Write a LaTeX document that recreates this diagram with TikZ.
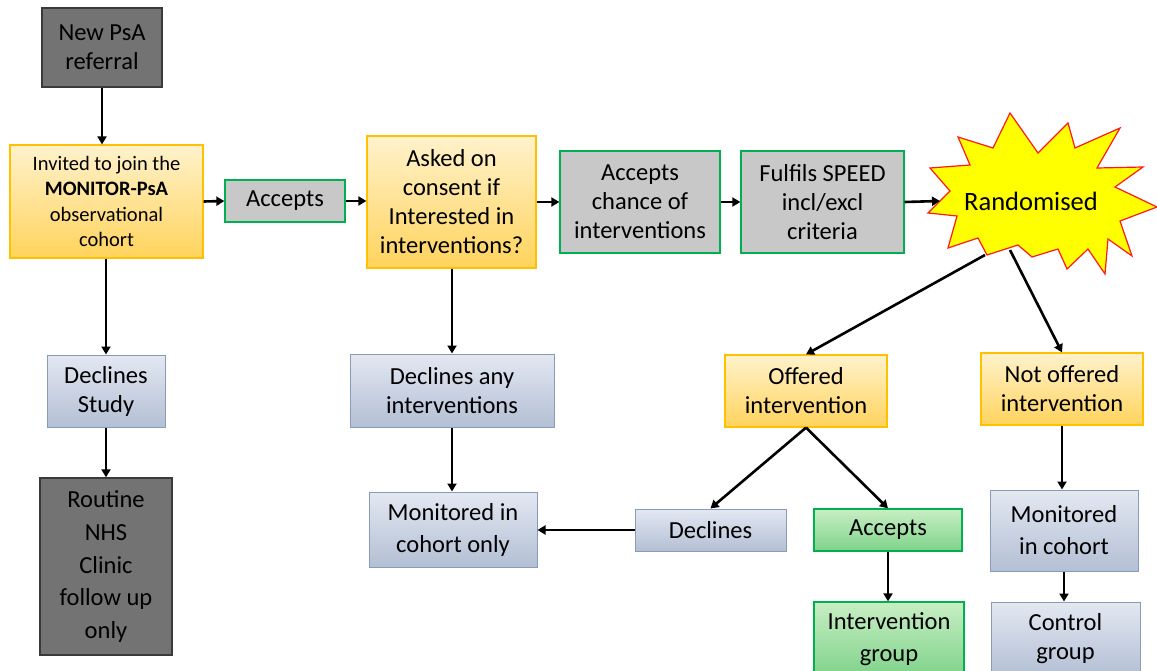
\documentclass[tikz,border=0pt]{standalone}
\usepackage{fontspec}
\setmainfont{Carlito}
\usetikzlibrary{arrows.meta,shadings}
\definecolor{darkbox}{HTML}{737373}
\definecolor{darkline}{HTML}{3A3A3A}
\definecolor{graybox}{HTML}{C8C8C8}
\definecolor{greenline}{HTML}{00B050}
\definecolor{ytop}{HTML}{FFF2CC}
\definecolor{ybot}{HTML}{FFD35C}
\definecolor{yline}{HTML}{FFC000}
\definecolor{btop}{HTML}{E3E8F2}
\definecolor{bbot}{HTML}{B3BFD4}
\definecolor{bline}{HTML}{8A9BB8}
\definecolor{gtop}{HTML}{C8EEC4}
\definecolor{gbot}{HTML}{7FD38A}
\definecolor{staryellow}{HTML}{FFFF00}
\definecolor{starred}{HTML}{FF1A1A}
\tikzset{
  base/.style={rectangle, inner sep=0pt, align=center, font=\fontsize{24.5}{29}\selectfont, text=black},
  darkstyle/.style={base, fill=darkbox, draw=darkline, line width=1.4pt},
  graystyle/.style={base, fill=graybox, draw=greenline, line width=1.3pt},
  yellowstyle/.style={base, top color=ytop, bottom color=ybot, draw=yline, line width=1.2pt},
  bluestyle/.style={base, top color=btop, bottom color=bbot, draw=bline, line width=1pt},
  greenstyle/.style={base, top color=gtop, bottom color=gbot, draw=greenline, line width=1.3pt},
  arr/.style={line width=2.6pt, -{Triangle[length=8pt,width=9pt]}},
}
\begin{document}
\begin{tikzpicture}[x=1pt,y=-1pt]
\clip (0,0) rectangle (1157,671);
\fill[white] (0,0) rectangle (1157,671);

% nodes
\node[darkstyle, minimum width=120pt, minimum height=79pt] (newpsa) at (102,47.5) {New PsA\\referral};
\node[yellowstyle, minimum width=193pt, minimum height=113pt, font=\fontsize{20.5}{25.3}\selectfont] (invited) at (106.5,201.5) {Invited to join the\\\textbf{MONITOR-PsA}\\observational\\cohort};
\node[graystyle, minimum width=120pt, minimum height=42pt] (acc1) at (285,201) {Accepts};
\node[yellowstyle, minimum width=169pt, minimum height=132pt] (asked) at (451.5,202) {Asked on\\consent if\\Interested in\\interventions?};
\node[graystyle, minimum width=160pt, minimum height=102pt] (accchance) at (640,202) {Accepts\\chance of\\interventions};
\node[graystyle, minimum width=163pt, minimum height=102pt] (fulfils) at (822.5,202) {Fulfils SPEED\\incl/excl\\criteria};

% starburst
\draw[fill=staryellow, draw=starred, line width=1.2pt, line join=miter]
  (1010,113) -- (1038,153) -- (1068,123) -- (1075,148) -- (1120,128) -- (1097,168)
  -- (1143,167) -- (1115,187) -- (1157,207) -- (1120,221) -- (1132,256) -- (1108,239)
  -- (1105,274) -- (1088,249) -- (1067,269) -- (1058,249) -- (1032,257) -- (1018,245)
  -- (987,255) -- (978,238) -- (948,248) -- (957,216) -- (928,213) -- (950,191)
  -- (930,168) -- (970,165) -- (958,137) -- (993,148) -- cycle;
\node[base, font=\fontsize{26.5}{30}\selectfont] (rand) at (1031,201) {Randomised};
\coordinate (randin) at (940,201);
\coordinate (randa) at (985,255);
\coordinate (randb) at (1010,250);

\node[bluestyle, minimum width=118pt, minimum height=72pt] (declstudy) at (106,391) {Declines\\Study};
\node[darkstyle, minimum width=132pt, minimum height=177pt, font=\fontsize{24.5}{33}\selectfont] (routine) at (106,566.5) {Routine\\NHS\\Clinic\\follow up\\only};
\node[bluestyle, minimum width=204pt, minimum height=73pt] (declany) at (452,390.5) {Declines any\\interventions};
\node[bluestyle, minimum width=168pt, minimum height=75pt, font=\fontsize{24.5}{32}\selectfont] (moncoh) at (453,529.5) {Monitored in\\cohort only};
\node[yellowstyle, minimum width=162pt, minimum height=72pt] (offered) at (806,391) {Offered\\intervention};
\node[yellowstyle, minimum width=162pt, minimum height=72pt] (notoff) at (1062,389) {Not offered\\intervention};
\node[bluestyle, minimum width=151pt, minimum height=42pt] (decl2) at (710.5,530) {Declines};
\node[greenstyle, minimum width=148pt, minimum height=42pt] (acc2) at (888,530) {Accepts};
\node[greenstyle, minimum width=150pt, minimum height=74pt, font=\fontsize{24.5}{32}\selectfont] (intgroup) at (889,639) {Intervention\\group};
\node[bluestyle, minimum width=148pt, minimum height=81pt, font=\fontsize{24.5}{32}\selectfont] (moncoh2) at (1064,530.5) {Monitored\\in cohort};
\node[bluestyle, minimum width=149pt, minimum height=74pt] (ctrl) at (1065.5,639) {Control\\group};

% connectors
\draw[arr] (newpsa.south) -- (invited.north -| newpsa.south);
\draw[arr] (invited.south -| declstudy.north) -- (declstudy.north);
\draw[arr] (declstudy.south) -- (routine.north -| declstudy.south);
\draw[arr] (invited.east) -- (acc1.west);
\draw[arr] (acc1.east) -- (asked.west |- acc1.east);
\draw[arr] (asked.east) -- (accchance.west);
\draw[arr] (accchance.east) -- (fulfils.west);
\draw[arr] (fulfils.east) -- (randin);
\draw[arr] (asked.south -| declany.north) -- (declany.north);
\draw[arr] (declany.south) -- (moncoh.north -| declany.south);
\draw[arr] (randa) -- (offered.north);
\draw[arr] (randb) -- (notoff.north);
\draw[arr] (offered.south) -- (decl2.north);
\draw[arr] (offered.south) -- (acc2.north);
\draw[arr] (decl2.west) -- (moncoh.east |- decl2.west);
\draw[arr] (acc2.south) -- (intgroup.north -| acc2.south);
\draw[arr] (notoff.south) -- (moncoh2.north -| notoff.south);
\draw[arr] (moncoh2.south) -- (ctrl.north -| moncoh2.south);
\end{tikzpicture}
\end{document}
